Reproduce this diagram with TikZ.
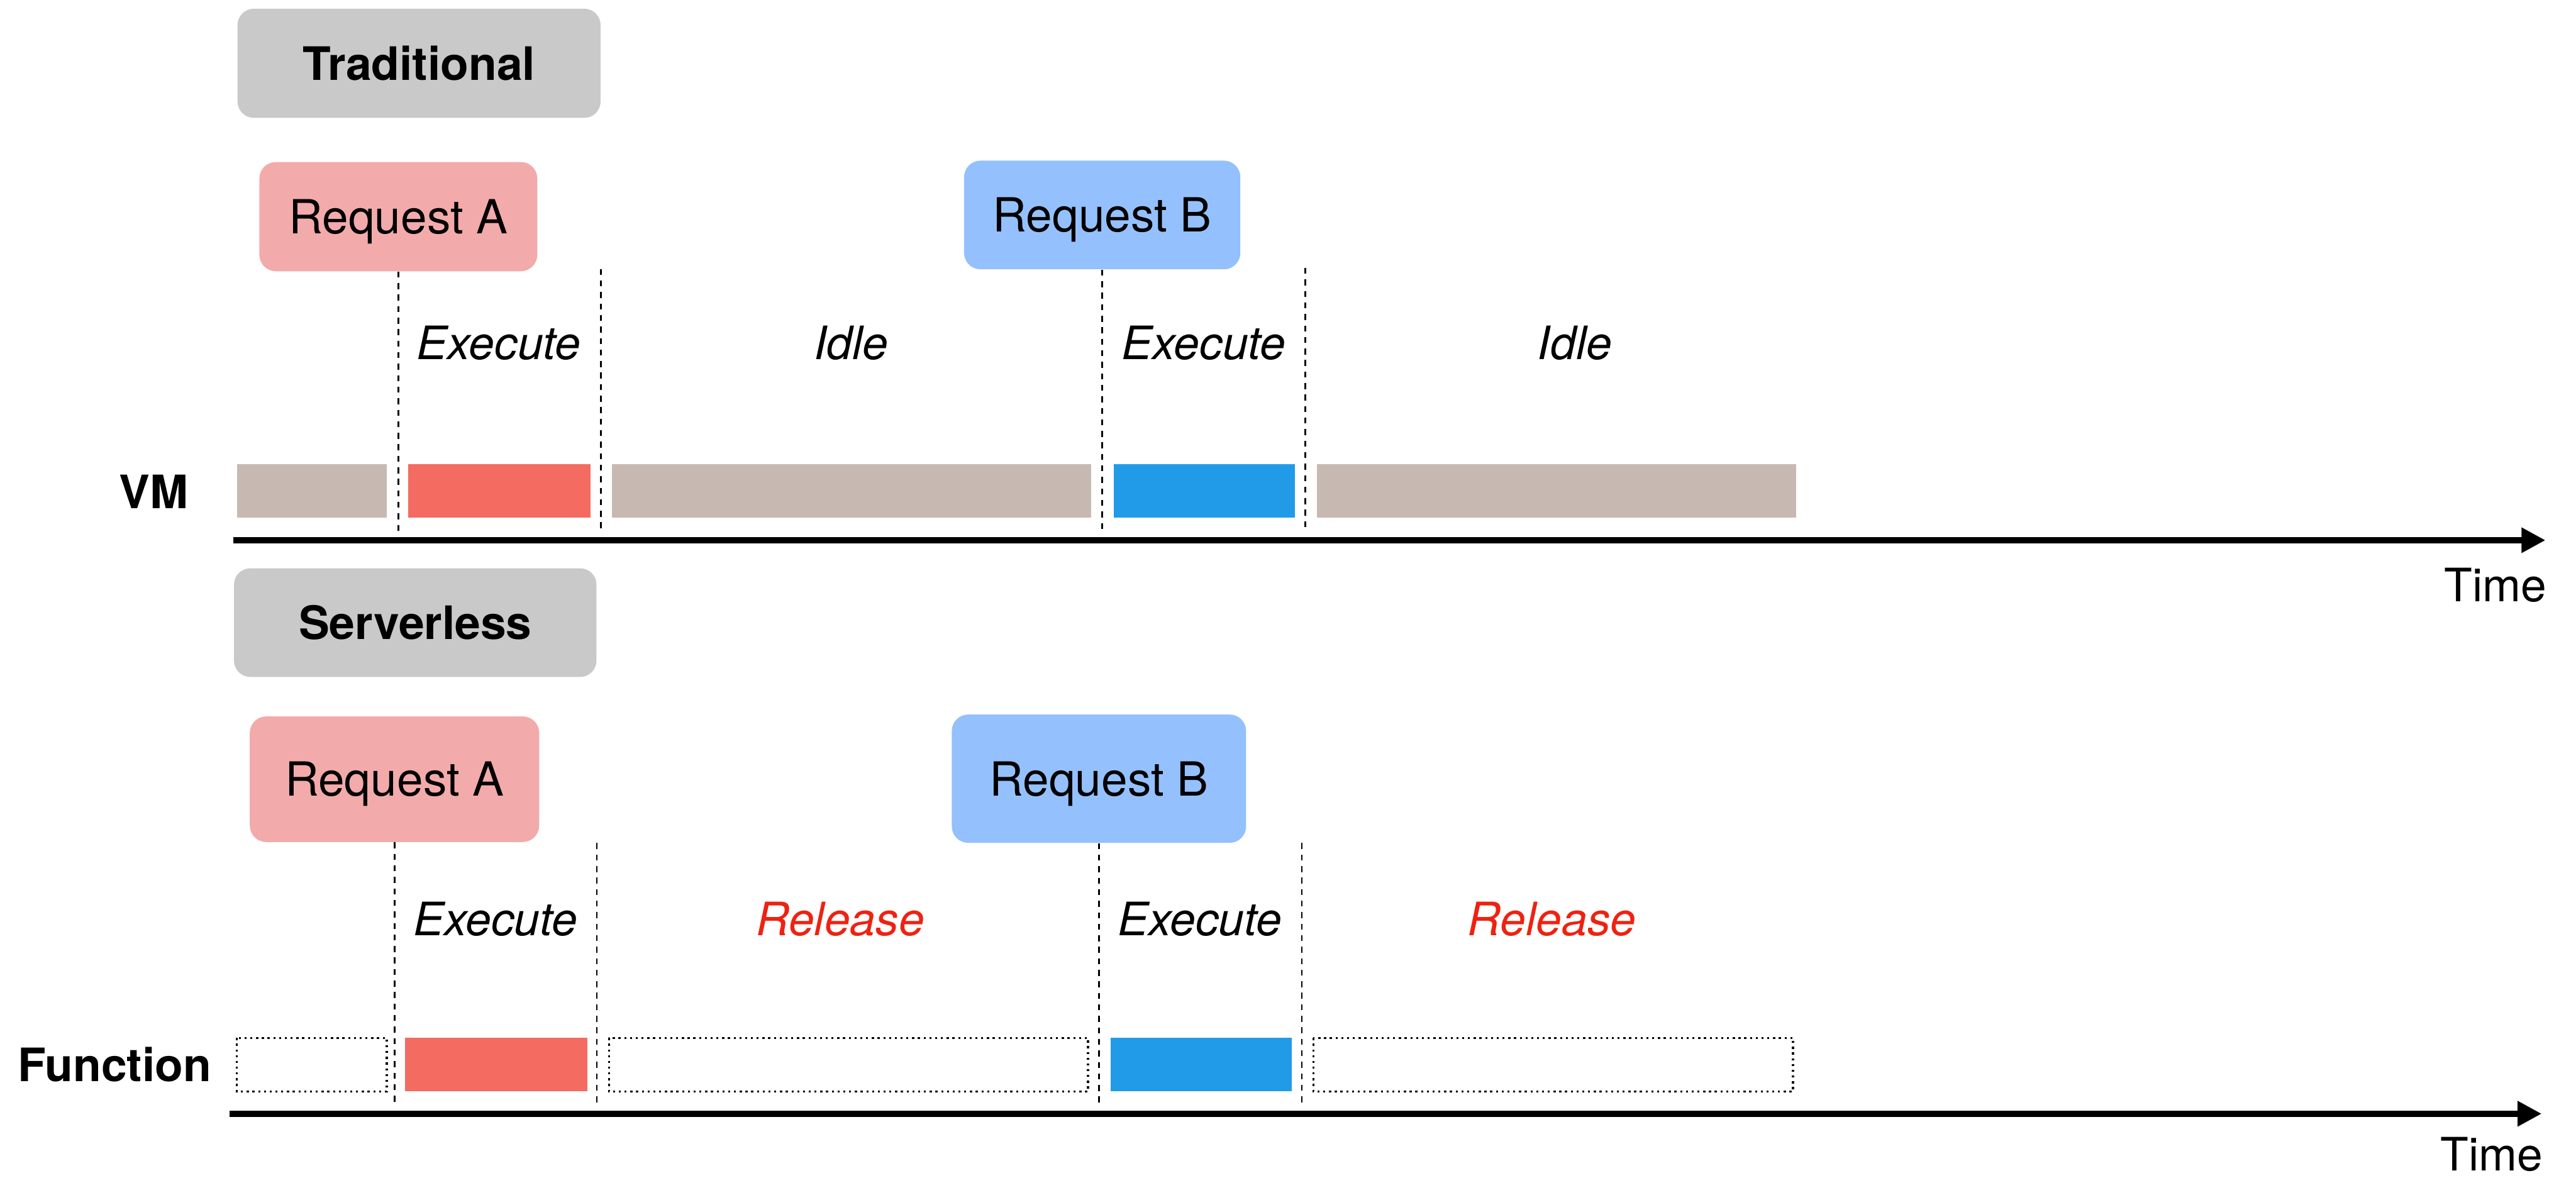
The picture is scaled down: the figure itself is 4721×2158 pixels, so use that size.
\documentclass[tikz,border=0pt]{standalone}
\usepackage{fontspec}
\setmainfont{TeX Gyre Heros}
\usetikzlibrary{arrows.meta}

\definecolor{titlegray}{HTML}{C9C9C9}
\definecolor{reqapink}{HTML}{F2ABAA}
\definecolor{reqbblue}{HTML}{94C1FD}
\definecolor{idlegray}{HTML}{C7B9B2}
\definecolor{execred}{HTML}{F46B61}
\definecolor{execblue}{HTML}{219BE8}
\definecolor{releasered}{HTML}{EE2211}

\tikzset{
  titlebox/.style={fill=titlegray, rounded corners=0.3cm, inner sep=0pt,
    text height=0.61cm, text depth=0pt,
    font=\fontsize{24}{24}\selectfont\bfseries},
  reqbox/.style={rounded corners=0.3cm, inner sep=0pt,
    text height=0.62cm, text depth=0pt,
    font=\fontsize{24.5}{24.5}\selectfont},
  phase/.style={anchor=base, inner sep=0pt,
    font=\fontsize{24}{24}\selectfont\itshape},
  rowlabel/.style={anchor=base east, inner sep=0pt,
    font=\fontsize{24}{24}\selectfont\bfseries},
  timelabel/.style={anchor=base east, inner sep=0pt,
    font=\fontsize{24}{24}\selectfont},
  guide/.style={line width=0.85pt, dash pattern=on 3.1pt off 2.9pt},
  slot/.style={line width=1.1pt, dash pattern=on 1.1pt off 1.9pt},
  timeaxis/.style={line width=3.1pt, -{Triangle[length=0.44cm,width=0.44cm]}}
}

\begin{document}
\begin{tikzpicture}[x=0.01cm, y=-0.01cm]
\useasboundingbox (0,0) rectangle (4721,2158);

% ---------------- Traditional ----------------
\node[titlebox, minimum width=6.65cm, minimum height=2cm] (trad) at (768,116) {Traditional};
\node[reqbox, fill=reqapink, minimum width=5.09cm, minimum height=2cm] (reqA1) at (730,397) {Request A};
\node[reqbox, fill=reqbblue, minimum width=5.06cm, minimum height=1.99cm] (reqB1) at (2020,394) {Request B};

\coordinate (t1) at (730,973);
\coordinate (t2a) at (1101,493);
\coordinate (t2) at (1101,973);
\coordinate (t3) at (2020,973);
\coordinate (t4a) at (2392,491);
\coordinate (t4) at (2392,973);
\draw[guide] (reqA1.south) -- (t1);
\draw[guide] (t2a) -- (t2);
\draw[guide] (reqB1.south) -- (t3);
\draw[guide] (t4a) -- (t4);

\node[phase] (ex1) at (914,659) {Execute};
\node[phase] (idle1) at (1560,659) {Idle};
\node[phase] (ex2) at (2206,659) {Execute};
\node[phase] (idle2) at (2886,659) {Idle};

\fill[idlegray] (434,851) rectangle (709,948);
\fill[execred] (748,851) rectangle (1082,948);
\fill[idlegray] (1121,851) rectangle (2000,948);
\fill[execblue] (2041,851) rectangle (2373,948);
\fill[idlegray] (2413,851) rectangle (3292,948);

\node[rowlabel] (vm) at (346,932) {VM};

\coordinate (axis1s) at (428,990);
\coordinate (axis1e) at (4665,990);
\draw[timeaxis] (axis1s) -- (axis1e);
\node[timelabel] (time1) at (4668,1103) {Time};

% ---------------- Serverless ----------------
\node[titlebox, minimum width=6.64cm, minimum height=1.99cm] (serv) at (761,1141) {Serverless};
\node[reqbox, fill=reqapink, minimum width=5.3cm, minimum height=2.3cm] (reqA2) at (723,1428) {Request A};
\node[reqbox, fill=reqbblue, minimum width=5.39cm, minimum height=2.35cm] (reqB2) at (2014,1427) {Request B};

\coordinate (b1) at (723,2023);
\coordinate (b2a) at (1094,1545);
\coordinate (b2) at (1094,2023);
\coordinate (b3) at (2014,2023);
\coordinate (b4a) at (2386,1545);
\coordinate (b4) at (2386,2023);
\draw[guide] (reqA2.south) -- (b1);
\draw[guide] (b2a) -- (b2);
\draw[guide] (reqB2.south) -- (b3);
\draw[guide] (b4a) -- (b4);

\node[phase] (ex3) at (908,1714) {Execute};
\node[phase, text=releasered] (rel1) at (1540,1714) {Release};
\node[phase] (ex4) at (2199,1714) {Execute};
\node[phase, text=releasered] (rel2) at (2844,1714) {Release};

\draw[slot] (434,1902) rectangle (709,2000);
\fill[execred] (742,1902) rectangle (1076,2000);
\draw[slot] (1116,1902) rectangle (1994,2000);
\fill[execblue] (2035,1902) rectangle (2367,2000);
\draw[slot] (2407,1902) rectangle (3286,2000);

\node[rowlabel] (fn) at (388,1982) {Function};

\coordinate (axis2s) at (421,2041);
\coordinate (axis2e) at (4658,2041);
\draw[timeaxis] (axis2s) -- (axis2e);
\node[timelabel] (time2) at (4661,2145) {Time};
\end{tikzpicture}
\end{document}
